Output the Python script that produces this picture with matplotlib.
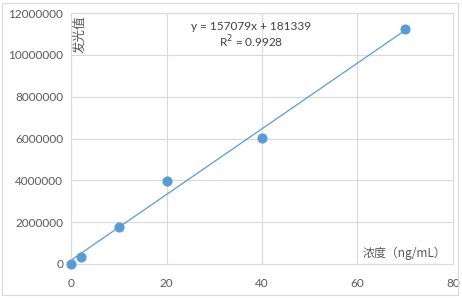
import matplotlib.pyplot as plt
from matplotlib.patches import Rectangle
import numpy as np

plt.rcParams["font.family"] = ["Lato", "DejaVu Sans"]

# data
conc = [0, 2, 10, 20, 40, 70]
signal = [0, 335000, 1760000, 3950000, 6040000, 11220000]
slope = 157079
intercept = 181339
eq_text = "y = 157079x + 181339"
r2_text = "R$^2$ = 0.9928"
x_ticks = [0, 20, 40, 60, 80]
y_ticks = [0, 2000000, 4000000, 6000000, 8000000, 10000000, 12000000]

blue = "#5B9BD5"
grid = "#D9D9D9"
text_gray = "#595959"
cjk = ["Noto Sans CJK SC", "DejaVu Sans"]

W, H = 462, 298
fig = plt.figure(figsize=(W / 100, H / 100), dpi=100)
ax = fig.add_axes([71 / W, 1 - 264 / H, (453 - 71) / W, (264 - 13) / H])

# outer chart border
fig.patches.append(Rectangle((2 / W, 3 / H), 456 / W, 292 / H, transform=fig.transFigure,
                             fill=False, edgecolor=grid, linewidth=0.8))

# trendline over the data range
xs = np.array([min(conc), max(conc)])
ax.plot(xs, slope * xs + intercept, color=blue, linewidth=0.9, zorder=2)
ax.plot(conc, signal, "o", color=blue, markersize=6.3, zorder=3, clip_on=False)

ax.set_xlim(0, 80)
ax.set_ylim(0, 12000000)
ax.set_xticks(x_ticks)
ax.set_yticks(y_ticks)
ax.set_yticklabels([str(v) for v in y_ticks])
ax.tick_params(length=0, labelsize=8.5, labelcolor=text_gray)
ax.tick_params(axis="x", pad=10)
ax.tick_params(axis="y", pad=5.5)
ax.grid(True, color=grid, linewidth=0.8)
ax.set_axisbelow(True)
for s in ax.spines.values():
    s.set_color(grid)
    s.set_linewidth(0.8)

# equation label
fig.text(251 / W, 1 - 27 / H, eq_text, ha="center", va="center", fontsize=8.5, color="#404040")
fig.text(251 / W, 1 - 42 / H, r2_text, ha="center", va="center", fontsize=8.5, color="#404040")

# axis titles drawn inside the plot area
fig.text(80 / W, 1 - 34 / H, "发光值", rotation=90, ha="center", va="center",
         fontsize=9, color=text_gray, family=cjk)
fig.text(404 / W, 1 - 253 / H, "浓度（ng/mL）", ha="center", va="center",
         fontsize=8.6, color=text_gray, family=cjk)

fig.savefig("out.png", dpi=100)
